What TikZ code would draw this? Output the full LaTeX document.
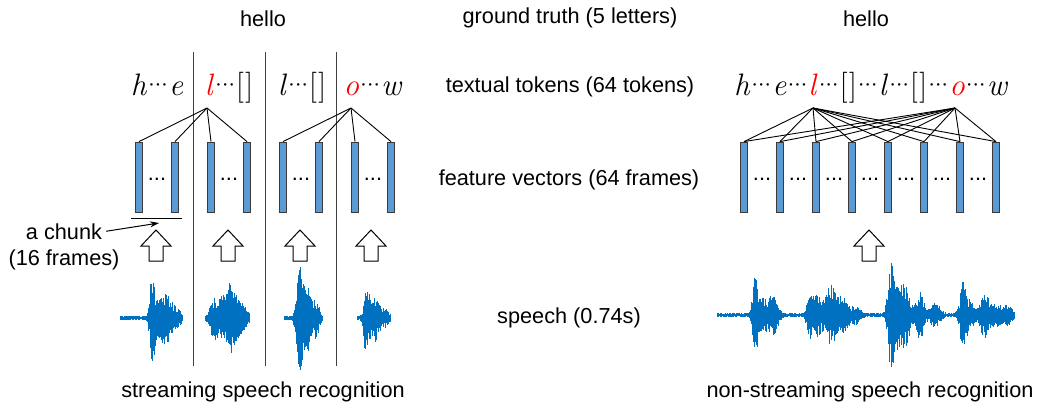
\documentclass[tikz,border=0pt]{standalone}
\usepackage{fontspec}
\newfontfamily\arial{Liberation Sans}
\usetikzlibrary{arrows.meta}
\definecolor{barfill}{HTML}{5B9BD5}
\definecolor{barline}{HTML}{3A3A3A}
\definecolor{wavec}{HTML}{0070C0}
\newcommand\onedot{\makebox[0.21em][c]{\textperiodcentered}}
\newcommand\dts{\kern0.04em\onedot\onedot\onedot\kern0.04em}
\newcommand\ti[1]{\textit{#1}}
\newcommand\rd[1]{\textcolor{red}{\textit{#1}}}
\newcommand\wavedraw[4]{%
  \foreach \xx in {#1,#1.6,...,#2}{%
    \gdef\wamp{2}%
    \foreach \c/\a/\w in {#4}{%
      \pgfmathsetmacro\wt{abs(\xx-\c)/\w}%
      \ifdim\wt pt<3.5pt
        \pgfmathsetmacro\wtmp{\wamp+\a*exp(-\wt*\wt)}%
        \global\let\wamp\wtmp
      \fi}%
    \pgfmathsetmacro\wup{\wamp*(0.45+0.55*rnd)}%
    \pgfmathsetmacro\wdn{\wamp*(0.45+0.55*rnd)*1.05}%
    \draw[wave] (\xx,#3-\wup) -- (\xx,#3+\wdn);
  }}
\begin{document}
\begin{tikzpicture}[x=1pt,y=-1pt,
  lbl/.style={font=\arial\fontsize{21.7}{27}\selectfont, inner sep=0, anchor=base},
  tok/.style={font=\fontsize{31}{32}\selectfont, inner sep=0, anchor=base},
  dotlbl/.style={font=\arial\fontsize{21.7}{27}\selectfont, inner sep=0, anchor=base},
  bar/.style={draw=barline, fill=barfill, line width=0.8pt, minimum width=7pt, minimum height=70pt, inner sep=0},
  link/.style={line width=0.9pt, black},
  divider/.style={line width=1pt, draw=black!75},
  wave/.style={wavec, line width=0.8pt},
  blockarrow/.pic={\draw[line width=1pt, fill=white] (-7,15) -- (-7,0) -- (-15,0) -- (0,-16) -- (15,0) -- (7,0) -- (7,15) -- cycle;}]
\path[use as bounding box] (0,0) rectangle (1038,405);
\pgfmathsetseed{3}

% ---- labels
\node[lbl] (helloL) at (263,26) {hello};
\node[lbl] (helloR) at (866,26) {hello};
\node[lbl] (gt) at (570,23) {ground truth (5 letters)};
\node[lbl] (tt) at (570,92) {textual tokens (64 tokens)};
\node[lbl] (fv) at (569,185) {feature vectors (64 frames)};
\node[lbl] (sp) at (569,323) {speech (0.74s)};
\node[lbl] (sL) at (263,397) {streaming speech recognition};
\node[lbl] (sR) at (870,397) {non-streaming speech recognition};
\node[lbl] (chunkA) at (64,239) {a chunk};
\node[lbl] (chunkB) at (64,265) {(16 frames)};

% ---- dividers
\draw[divider] (193,52) -- (193,366);
\draw[divider] (265,52) -- (265,366);
\draw[divider] (336,52) -- (336,366);

% ---- tokens
\node[tok] (t1) at (157,95) {\ti{h}\dts\ti{e}};
\node[tok] (t2) at (229,95) {\rd{l}\dts[\kern0.05em]};
\node[tok] (t3) at (302,95) {\ti{l}\dts[\kern0.05em]};
\node[tok] (t4) at (373,95) {\rd{o}\dts\ti{w}};
\node[tok] (tR) at (871,95) {\ti{h}\dts\ti{e}\dts\rd{l}\dts[\kern0.05em]\dts\ti{l}\dts[\kern0.05em]\dts\rd{o}\dts\ti{w}};

\coordinate (aL1) at (207,108);
\coordinate (aL2) at (351,108);
\coordinate (aR1) at (813,108);
\coordinate (aR2) at (955,108);

% ---- bars
\foreach \i/\x in {1/139,2/175,3/211,4/247,5/283,6/319,7/355,8/391}
  \node[bar] (L\i) at (\x,177) {};
\foreach \i/\x in {1/744,2/780,3/816,4/852,5/888,6/924,7/960,8/996}
  \node[bar] (R\i) at (\x,177) {};
\foreach \x in {157,229,301,373,762,798,834,870,906,942,978}
  \node[dotlbl] at (\x,180) {...};

% ---- links
\foreach \i in {1,...,4} \draw[link] (aL1) -- (L\i.north);
\foreach \i in {5,...,8} \draw[link] (aL2) -- (L\i.north);
\foreach \i in {1,...,8} {\draw[link] (aR1) -- (R\i.north); \draw[link] (aR2) -- (R\i.north);}

% ---- chunk marker
\draw[line width=1pt] (131,218) -- (182,218);
\coordinate (chunktip) at (159,223);
\draw[line width=1pt, -{Stealth[length=9pt,width=6pt]}] ([xshift=4pt]chunkA.east) -- (chunktip);

% ---- block arrows
\foreach \x in {156,228,300,371,869}
  \pic at (\x,246) {blockarrow};

% ---- waveforms
\wavedraw{120}{183}{318}{152/38/3,157/16/5,165/22/5,172/12/5,179/5/4}
\wavedraw{205}{250}{318}{214/18/5,224/22/6,231/28/4,238/20/5,246/8/4}
\wavedraw{284}{323}{318}{299/48/3.5,304/25/4,309/25/3,316/18/4}
\wavedraw{357}{391}{318}{366/28/3,370/15/4,376/18/4,384/8/6}
\wavedraw{717}{1015}{315}{755/38/3,762/15/6,773/18/6,810/20/4,818/18/5,831/28/7,843/15/6,855/8/6,891/44/4,897/28/6,906/28/5,920/22/5,935/12/6,963/30/4,970/12/6,984/20/5,995/10/8,1008/8/6}
\end{tikzpicture}
\end{document}
